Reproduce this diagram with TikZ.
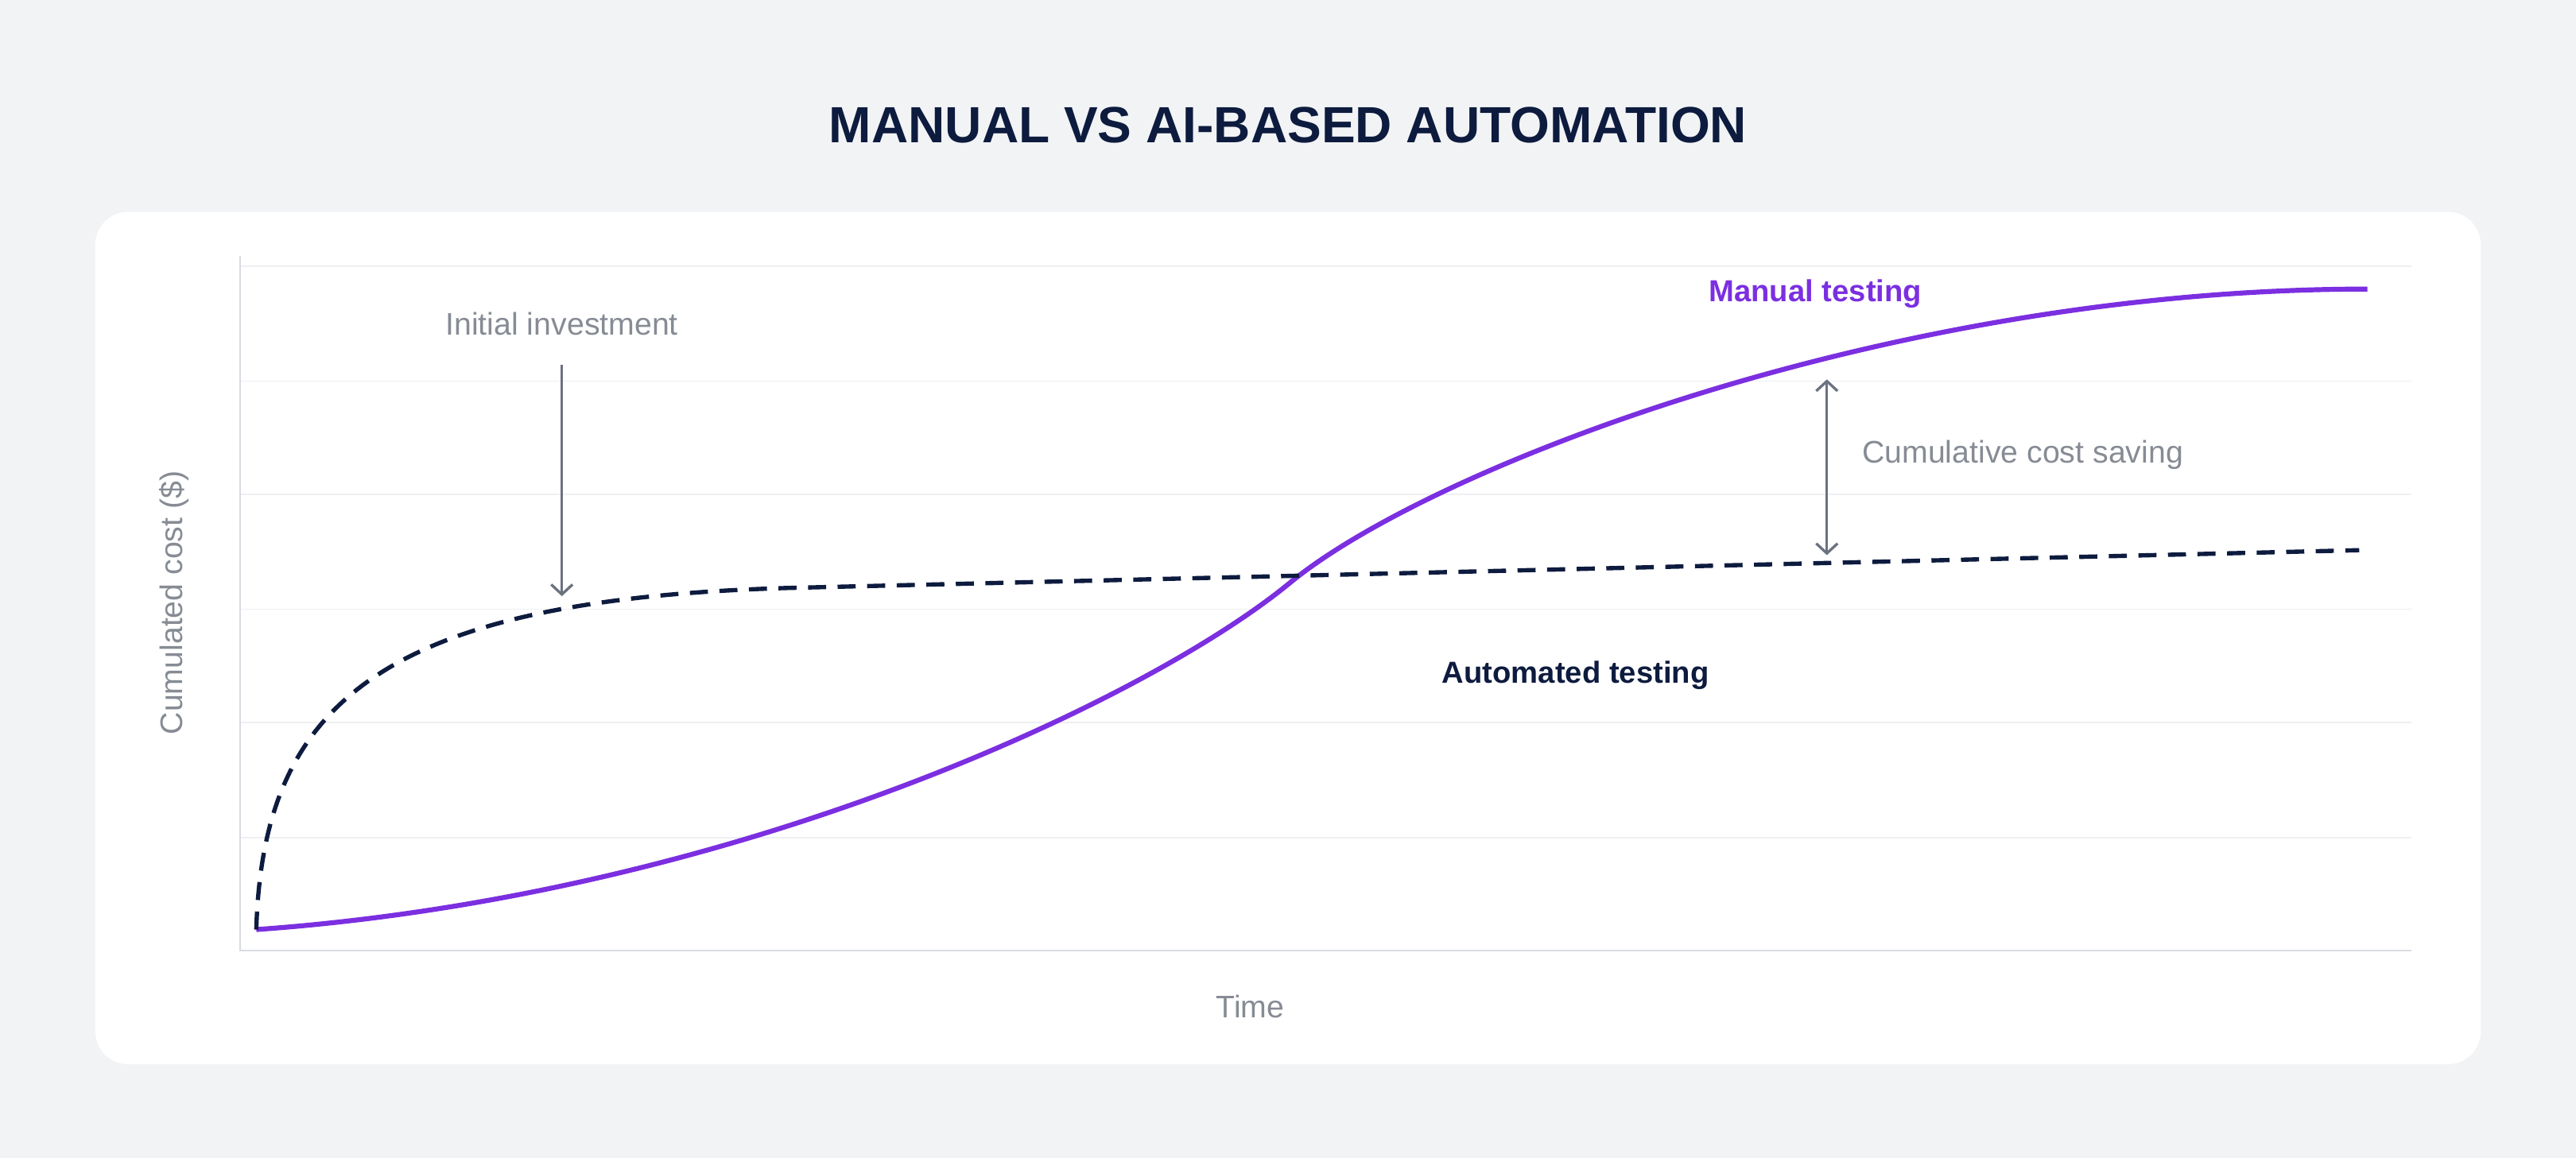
\documentclass[tikz,border=0pt]{standalone}
\usepackage{fontspec}
\setmainfont{Liberation Sans}
\usetikzlibrary{arrows.meta}
\definecolor{bgGray}{HTML}{F2F3F5}
\definecolor{navy}{HTML}{0D1B3E}
\definecolor{violet}{HTML}{7B2FE0}
\definecolor{labelGray}{HTML}{868B94}
\definecolor{arrowGray}{HTML}{6B7280}
\definecolor{gridGray}{HTML}{EEEFF2}
\definecolor{axisGray}{HTML}{D9DBE0}

\begin{document}
\begin{tikzpicture}[x=1pt,y=-1pt,
    lbl/.style={font=\fontsize{19}{22}\selectfont,text=labelGray},
    curvelbl/.style={font=\fontsize{18.5}{22}\selectfont\bfseries},
    barb/.tip={Straight Barb[length=6pt,width=13pt,line width=1.6pt]},
    pointer/.style={draw=arrowGray,line width=1.6pt,-barb}]

      % Background and card
      \fill[bgGray] (0,0) rectangle (1568,705);
      \useasboundingbox (0,0) rectangle (1568,705);
      \fill[white,rounded corners=20pt] (58,129) rectangle (1510,648);

      % Title
      \node[font=\fontsize{31}{36}\selectfont\bfseries,text=navy] (title) at (784,76) {MANUAL VS AI-BASED AUTOMATION};

      % Grid and axes
      \foreach \y in {162,232,301,371,440,510}
        \draw[gridGray,line width=0.8pt] (146,\y) -- (1468,\y);
      \coordinate (origin) at (146,579);
      \coordinate (ytop) at (146,156);
      \coordinate (xend) at (1468,579);
      \draw[axisGray,line width=1pt] (ytop) -- (origin) -- (xend);

      % Axis labels
      \node[lbl,rotate=90] (ylabel) at (106,367) {Cumulated cost (\$)};
      \node[lbl] (xlabel) at (761,613) {Time};

      % Curves
      \coordinate (start) at (156,566);
      \coordinate (cross) at (785,355);
      \coordinate (manualend) at (1441,176);
      \coordinate (autoknee) at (480,358);
      \coordinate (autoend) at (1436,335);
      \draw[violet,line width=3pt] (start) .. controls (450,545) and (700,425) .. (cross)
        .. controls (870,285) and (1150,176) .. (manualend);
      \draw[navy,line width=2.6pt,dash pattern=on 11pt off 7pt] (start) .. controls (160,430) and (230,365) .. (autoknee) -- (autoend);

      % Annotations
      \node[lbl] (invest) at (342,197) {Initial investment};
      \coordinate (investtip) at (342,363);
      \draw[pointer] (342,222) -- (investtip);

      \node[curvelbl,text=violet] (manual) at (1105,179) {Manual testing};
      \node[curvelbl,text=navy] (auto) at (959,411) {Automated testing};

      \coordinate (savetop) at (1112,231);
      \coordinate (savebot) at (1112,338);
      \draw[pointer,barb-barb] (savetop) -- (savebot);
      \node[lbl,anchor=west] (saving) at (1130,277) {Cumulative cost saving};

    \end{tikzpicture}
\end{document}
